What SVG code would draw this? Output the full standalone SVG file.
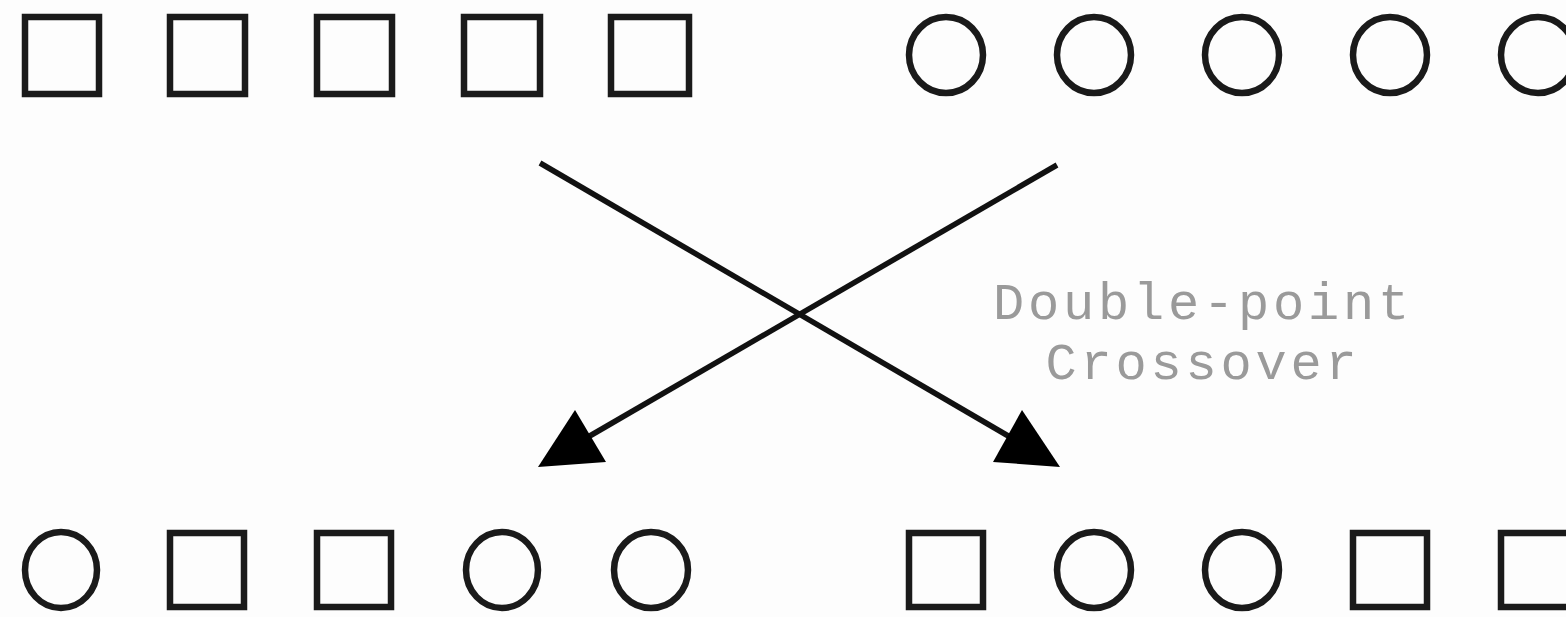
<svg xmlns="http://www.w3.org/2000/svg" width="1566" height="617" viewBox="0 0 1566 617">
  <style>
    .sq { fill: none; stroke: #1a1a1a; stroke-width: 6.5; }
    .ci { fill: none; stroke: #1a1a1a; stroke-width: 6.5; }
    .edge { stroke: #111; stroke-width: 5.5; fill: none; }
    .head { fill: #000; }
    .lbl { font-family: "Liberation Mono", "DejaVu Sans Mono", monospace; font-size: 52px; letter-spacing: 3.8px; fill: #9a9a9a; text-anchor: middle; }
  </style>
  <rect width="1566" height="617" fill="#fdfdfd"/>

  <!-- parent A (top left): squares -->
  <g id="parentA">
    <rect class="sq" x="25" y="17" width="74" height="77"/>
    <rect class="sq" x="170" y="17" width="75" height="77"/>
    <rect class="sq" x="317" y="17" width="75" height="77"/>
    <rect class="sq" x="464" y="17" width="76" height="77"/>
    <rect class="sq" x="611" y="17" width="78" height="77"/>
  </g>

  <!-- parent B (top right): circles -->
  <g id="parentB">
    <ellipse class="ci" cx="946" cy="55" rx="37" ry="38"/>
    <ellipse class="ci" cx="1094" cy="55" rx="37" ry="38"/>
    <ellipse class="ci" cx="1242" cy="55" rx="37" ry="38"/>
    <ellipse class="ci" cx="1390" cy="55" rx="37" ry="38"/>
    <ellipse class="ci" cx="1538" cy="55" rx="37" ry="38"/>
  </g>

  <!-- connectors -->
  <g id="connectors">
    <line class="edge" x1="540" y1="163" x2="1010" y2="437"/>
    <line class="edge" x1="1057" y1="165" x2="588" y2="437"/>
    <polygon class="head" points="1060,467 993,462 1022,410"/>
    <polygon class="head" points="538,467 606,462 575,410"/>
  </g>

  <g id="label">
    <text class="lbl" x="1203" y="319">Double-point</text>
    <text class="lbl" x="1203" y="379">Crossover</text>
  </g>

  <!-- child A (bottom left) -->
  <g id="childA">
    <ellipse class="ci" cx="61" cy="570" rx="36" ry="38"/>
    <rect class="sq" x="170" y="533" width="74" height="74"/>
    <rect class="sq" x="317" y="533" width="74" height="74"/>
    <ellipse class="ci" cx="502" cy="570" rx="36" ry="38"/>
    <ellipse class="ci" cx="651" cy="570" rx="37" ry="38"/>
  </g>

  <!-- child B (bottom right) -->
  <g id="childB">
    <rect class="sq" x="909" y="533" width="74" height="74"/>
    <ellipse class="ci" cx="1094" cy="570" rx="37" ry="38"/>
    <ellipse class="ci" cx="1242" cy="570" rx="37" ry="38"/>
    <rect class="sq" x="1353" y="533" width="74" height="74"/>
    <rect class="sq" x="1501" y="533" width="74" height="74"/>
  </g>
</svg>
